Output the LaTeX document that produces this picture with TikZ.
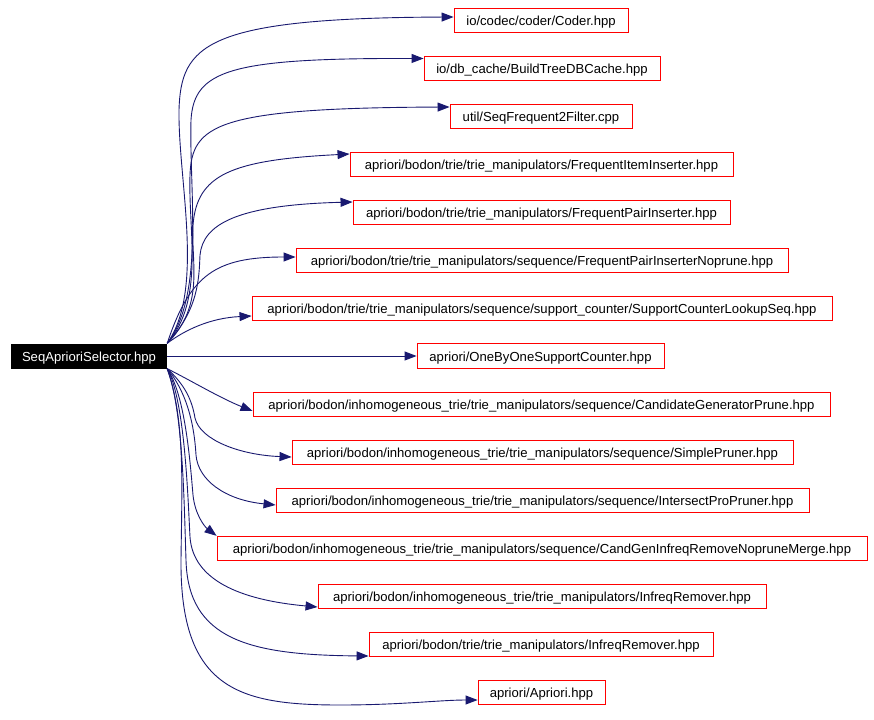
\documentclass[tikz,border=0pt]{standalone}
\usepackage{fontspec}
\setmainfont{Liberation Sans}
\usetikzlibrary{arrows.meta}
\definecolor{edgeblue}{HTML}{191970}
\begin{document}
\begin{tikzpicture}[x=1pt,y=-1pt,
  file/.style={draw=red, line width=0.9pt, minimum height=24.5pt, inner sep=0pt,
    text height=10.4pt, text depth=0pt, font=\fontsize{13.1}{15}\selectfont},
  rootbox/.style={fill=black, text=white, minimum height=25pt, inner sep=0pt,
    text height=10.4pt, text depth=0pt, font=\fontsize{13.1}{15}\selectfont},
  dep/.style={draw=edgeblue, line width=0.9pt, -{Triangle[length=12pt,width=9pt]}}]
\useasboundingbox[fill=white] (0,0) rectangle (874,719);

\node[rootbox, minimum width=156pt] (root) at (89,356) {SeqAprioriSelector.hpp};

\node[file, minimum width=174pt] (t1) at (541,20.5) {io/codec/coder/Coder.hpp};
\node[file, minimum width=236pt] (t2) at (542,68.5) {io/db\_cache/BuildTreeDBCache.hpp};
\node[file, minimum width=182pt] (t3) at (541,116.5) {util/SeqFrequent2Filter.cpp};
\node[file, minimum width=383pt] (t4) at (541.5,164.5) {apriori/bodon/trie/trie\_manipulators/FrequentItemInserter.hpp};
\node[file, minimum width=377pt] (t5) at (541.5,212.5) {apriori/bodon/trie/trie\_manipulators/FrequentPairInserter.hpp};
\node[file, minimum width=492pt] (t6) at (542,260.5) {apriori/bodon/trie/trie\_manipulators/sequence/FrequentPairInserterNoprune.hpp};
\node[file, minimum width=580pt] (t7) at (542,308.5) {apriori/bodon/trie/trie\_manipulators/sequence/support\_counter/SupportCounterLookupSeq.hpp};
\node[file, minimum width=247pt] (t8) at (540.5,356) {apriori/OneByOneSupportCounter.hpp};
\node[file, minimum width=577pt] (t9) at (541.5,404.5) {apriori/bodon/inhomogeneous\_trie/trie\_manipulators/sequence/CandidateGeneratorPrune.hpp};
\node[file, minimum width=501pt] (t10) at (542.5,452.5) {apriori/bodon/inhomogeneous\_trie/trie\_manipulators/sequence/SimplePruner.hpp};
\node[file, minimum width=533pt] (t11) at (542.5,500.5) {apriori/bodon/inhomogeneous\_trie/trie\_manipulators/sequence/IntersectProPruner.hpp};
\node[file, minimum width=650pt] (t12) at (542,548.5) {apriori/bodon/inhomogeneous\_trie/trie\_manipulators/sequence/CandGenInfreqRemoveNopruneMerge.hpp};
\node[file, minimum width=448pt] (t13) at (542,596.5) {apriori/bodon/inhomogeneous\_trie/trie\_manipulators/InfreqRemover.hpp};
\node[file, minimum width=344pt] (t14) at (541,644.5) {apriori/bodon/trie/trie\_manipulators/InfreqRemover.hpp};
\node[file, minimum width=127pt] (t15) at (541.5,692.5) {apriori/Apriori.hpp};

% upper edges
\draw[dep] (root.north east) .. controls (205,290) and (178,180) .. (179,110)
  .. controls (181,45) and (205,18) .. ([yshift=3.5pt]t1.west);
\draw[dep] (root.north east) .. controls (205,295) and (189,190) .. (191,120)
  .. controls (194,70) and (230,58) .. ([yshift=10pt]t2.west);
\draw[dep] (root.north east) .. controls (205,300) and (188,230) .. (190,175)
  .. controls (192,125) and (215,108) .. ([yshift=9.5pt]t3.west);
\draw[dep] (root.north east) .. controls (205,305) and (191,265) .. (193,225)
  .. controls (197,175) and (230,160) .. ([yshift=10.5pt]t4.west);
\draw[dep] (root.north east) .. controls (198,310) and (199,280) .. (200,255)
  .. controls (203,225) and (235,205) .. ([yshift=10.5pt]t5.west);
\draw[dep] (root.north east) .. controls (190,275) and (215,257) .. ([yshift=3.5pt]t6.west);
\draw[dep] (root.north east) .. controls (185,330) and (210,318) .. ([yshift=-7.5pt]t7.west);
% middle edge
\draw[dep] (root.east) -- (t8.west);
% lower edges
\draw[dep] (root.south east) .. controls (190,380) and (220,398) .. ([yshift=-6.5pt]t9.west);
\draw[dep] (root.south east) .. controls (185,385) and (192,400) .. (195,418)
  .. controls (200,440) and (240,455) .. ([yshift=-4.5pt]t10.west);
\draw[dep] (root.south east) .. controls (185,390) and (194,420) .. (196,455)
  .. controls (198,480) and (225,500) .. ([yshift=-4.5pt]t11.west);
\draw[dep] (root.south east) .. controls (185,395) and (190,460) .. (193,495)
  .. controls (195,515) and (205,527) .. (t12.north west);
\draw[dep] (root.south east) .. controls (185,400) and (188,500) .. (190,537)
  .. controls (193,580) and (240,600) .. ([yshift=-10.5pt]t13.west);
\draw[dep] (root.south east) .. controls (183,410) and (184,500) .. (186,560)
  .. controls (188,640) and (250,655) .. ([yshift=-11.5pt]t14.west);
\draw[dep] (root.south east) .. controls (185,420) and (182,480) .. (181,560)
  .. controls (180,690) and (240,705) .. (340,705)
  .. controls (400,705) and (440,700) .. ([yshift=-7.5pt]t15.west);
\end{tikzpicture}
\end{document}
